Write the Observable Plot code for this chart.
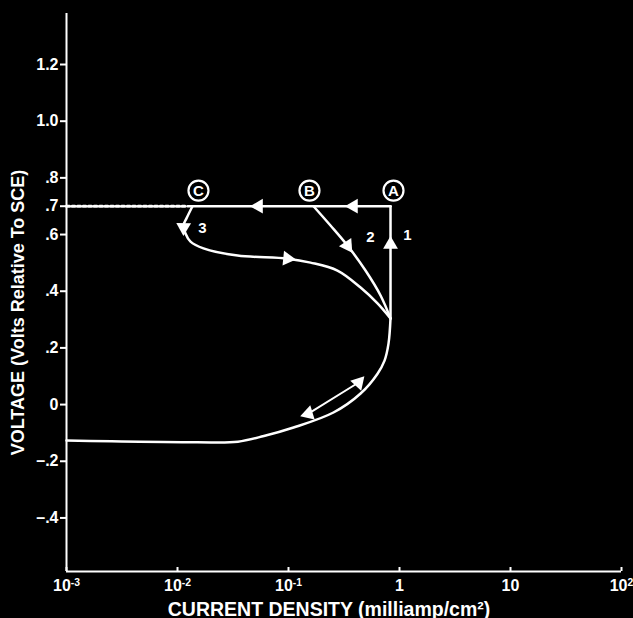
<!DOCTYPE html>
<html><head><meta charset="utf-8">
<script src="https://cdn.jsdelivr.net/npm/d3@7"></script>
<script src="https://cdn.jsdelivr.net/npm/@observablehq/plot@0.6"></script>
<style>
html,body{margin:0;padding:0;background:#000;}
#chart{width:633px;height:618px;}
</style></head><body><div id="chart"></div>
<script>
// ---- data ----
const xTicks = [1e-3, 1e-2, 1e-1, 1, 10, 100];
const xTickBase = ["10", "10", "10", "1", "10", "10"];
const xTickExp = ["-3", "-2", "-1", "", "", "2"];
const yTicks = [1.2, 1.0, 0.8, 0.7, 0.6, 0.4, 0.2, 0, -0.2, -0.4];
const yTickLabels = ["1.2", "1.0", ".8", ".7", ".6", ".4", ".2", "0", "–.2", "–.4"];
const xDomain = [1e-3, 1e2];
const yDomain = [-0.589, 1.38];
const xTitle = "CURRENT DENSITY (milliamp/cm²)";
const yTitle = "VOLTAGE (Volts Relative To SCE)";

// top horizontal sweep at 0.7 V
const topX = [0.0123, 0.83];
const topV = [0.7, 0.7];
const dottedX = [1e-3, 0.0123];
const dottedV = [0.7, 0.7];
// branch 1 (vertical rise)
const c1X = [0.83, 0.83];
const c1V = [0.304, 0.70];
// branch 2
const c2X = [0.168, 0.239, 0.340, 0.494, 0.675, 0.83];
const c2V = [0.70, 0.632, 0.561, 0.473, 0.385, 0.304];
// branch 3
const c3X = [0.01365, 0.01205, 0.01132, 0.0118, 0.0131, 0.01714, 0.0348, 0.098, 0.158, 0.276, 0.446, 0.634, 0.83];
const c3V = [0.70, 0.657, 0.632, 0.604, 0.575, 0.551, 0.526, 0.515, 0.501, 0.473, 0.413, 0.357, 0.304];
// lower polarization curve
const lowX = [0.83, 0.796, 0.733, 0.634, 0.446, 0.254, 0.111, 0.06, 0.035, 0.015, 0.001];
const lowV = [0.304, 0.215, 0.155, 0.109, 0.039, -0.028, -0.081, -0.111, -0.131, -0.133, -0.127];
// double-headed arrow
const dblX = [0.151, 0.428];
const dblV = [-0.032, 0.078];
// arrowheads: position and a point they point toward
const arrowX = [0.385, 0.0537, 0.83, 0.34, 0.01135, 0.098, 0.428, 0.151];
const arrowV = [0.7, 0.7, 0.565, 0.561, 0.625, 0.515, 0.078, -0.032];
const arrowToX = [0.3, 0.04, 0.83, 0.40, 0.0113, 0.13, 0.5, 0.12];
const arrowToV = [0.7, 0.7, 0.65, 0.52, 0.59, 0.51, 0.107, -0.044];
// circled letters
const letters = ["C", "B", "A"];
const letterX = [0.01545, 0.1545, 0.883];
const letterV = [0.755, 0.755, 0.755];
// branch numbers
const nums = ["1", "2", "3"];
const numX = [1.18, 0.548, 0.0168];
const numV = [0.597, 0.589, 0.621];

// ---- layout ----
const W = 633, H = 618;
const mL = 66, mR = 12, mT = 13, mB = 47;
const font = "'Liberation Sans', Arial, Helvetica, sans-serif";

const pts = (xs, vs) => xs.map((x, i) => ({x, v: vs[i]}));
const xs = Plot.scale({x: {type: "log", domain: xDomain, range: [mL, W - mR]}});
const ys = Plot.scale({y: {type: "linear", domain: yDomain, range: [H - mB, mT]}});
const arrows = arrowX.map((x, i) => {
  const dx = xs.apply(arrowToX[i]) - xs.apply(x);
  const dy = ys.apply(arrowToV[i]) - ys.apply(arrowV[i]);
  return {x, v: arrowV[i], rot: Math.atan2(dx, -dy) * 180 / Math.PI};
});

const lineOpts = {x: "x", y: "v", stroke: "#fff", strokeWidth: 2.5, curve: "catmull-rom"};

const chart = Plot.plot({
  width: W, height: H,
  marginLeft: mL, marginRight: mR, marginTop: mT, marginBottom: mB,
  style: {background: "#000", color: "#fff", fontFamily: font, fontWeight: "bold", fontSize: "16px"},
  x: {type: "log", domain: xDomain},
  y: {type: "linear", domain: yDomain},
  marks: [
    Plot.ruleX([xDomain[0]], {stroke: "#fff", strokeWidth: 2}),
    Plot.ruleY([yDomain[0]], {stroke: "#fff", strokeWidth: 2}),
    Plot.axisY({ticks: yTicks, tickFormat: d => yTickLabels[yTicks.indexOf(d)], tickSize: 6, tickPadding: 2, strokeWidth: 2, label: null, fontSize: 16}),
    Plot.axisX({ticks: xTicks, tickFormat: d => xTickBase[xTicks.indexOf(d)], tickSize: -4, tickPadding: 12, strokeWidth: 2, label: null, fontSize: 16}),
    Plot.text([yTitle], {frameAnchor: "left", textAnchor: "middle", rotate: -90, dx: -48, dy: 20, fontSize: 18, fill: "#fff"}),
    Plot.text([xTitle], {frameAnchor: "bottom", textAnchor: "middle", dy: 44, dx: -15, fontSize: 19.5, fill: "#fff"}),
    Plot.line(pts(dottedX, dottedV), {x: "x", y: "v", stroke: "#fff", strokeWidth: 3, strokeDasharray: "3,2.5"}),
    Plot.line(pts(topX, topV), {...lineOpts, curve: "linear"}),
    Plot.line(pts(c1X, c1V), {...lineOpts, curve: "linear"}),
    Plot.line(pts(c2X, c2V), lineOpts),
    Plot.line(pts(c3X, c3V), lineOpts),
    Plot.line(pts(lowX, lowV), lineOpts),
    Plot.line(pts(dblX, dblV), {...lineOpts, strokeWidth: 2, curve: "linear"}),
    Plot.dot(arrows, {x: "x", y: "v", rotate: "rot", symbol: "triangle", r: 5.5, fill: "#fff", stroke: "none"}),
    Plot.dot(pts(letterX, letterV), {x: "x", y: "v", r: 10, fill: "#000", stroke: "#fff", strokeWidth: 2.2}),
    Plot.text(pts(letterX, letterV), {x: "x", y: "v", text: (d, i) => letters[i], fontSize: 15, fill: "#fff", dy: 0.5}),
    Plot.text(pts(numX, numV), {x: "x", y: "v", text: (d, i) => nums[i], fontSize: 15, fill: "#fff"})
  ]
});

// make sure tick labels use the intended size
d3.select(chart).selectAll('g[aria-label="y-axis tick label"], g[aria-label="x-axis tick label"]')
  .attr("font-size", 16).style("font-size", "16px");

// superscript exponents on x tick labels
d3.select(chart).selectAll('g[aria-label="x-axis tick label"] text').each(function(_, i) {
  const exp = xTickExp[i];
  if (!exp) return;
  const t = d3.select(this);
  const base = t.text();
  t.text(null);
  t.append("tspan").text(base);
  t.append("tspan").attr("dy", "-0.45em").attr("font-size", "0.65em").text(exp);
});

document.getElementById("chart").append(chart);
</script></body></html>
